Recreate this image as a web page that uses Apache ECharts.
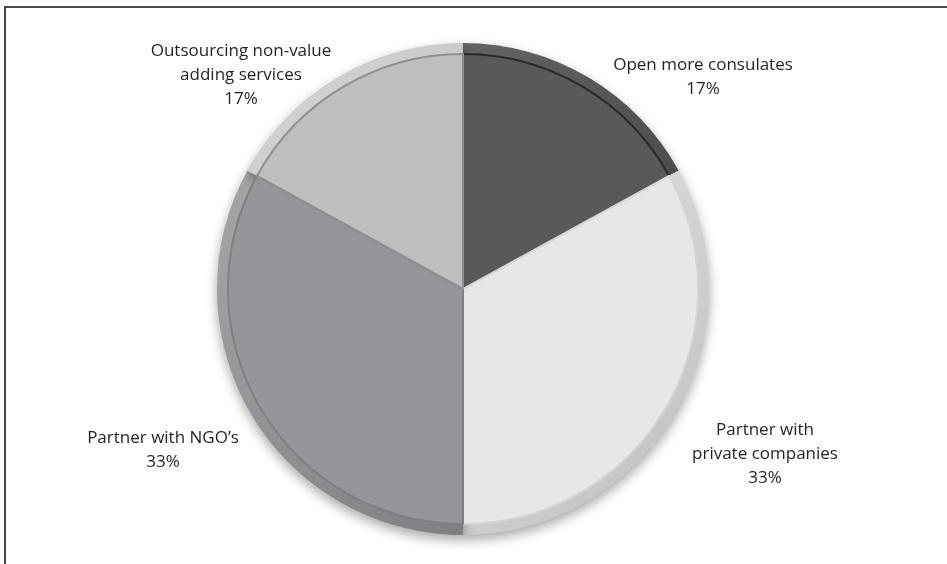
<!DOCTYPE html>
<html>
<head>
<meta charset="utf-8" />
<script src="https://cdn.jsdelivr.net/npm/echarts@6/dist/echarts.min.js"></script>
<style>
  html, body { margin: 0; padding: 0; background: #fff; }
  #frame {
    position: absolute; left: 4px; top: 6px; width: 943px; height: 558px;
    border-top: 2px solid #4a4a4a; border-left: 2px solid #4a4a4a;
  }
  #chart { position: absolute; left: 0; top: 0; width: 947px; height: 564px; }
</style>
</head>
<body>
<div id="frame"></div>
<div id="chart"></div>
<script>
// slices, clockwise from 12 o'clock
const categories = [
  "Open more consulates",
  "Partner with\nprivate companies",
  "Partner with NGO\u2019s",
  "Outsourcing non-value\nadding services"
];
const shares = [17, 33, 33, 17];

const fills = ["#58595b", "#e6e7e8", "#939598", "#bcbec0"];
const rimLight = ["#737477", "#f7f7f7", "#acaeb0", "#d6d7d8"];
const rimDark = ["#333335", "#bdbec0", "#6e6f72", "#a2a4a7"];
const edges = ["#2a2a2c", "#d4d5d7", "#7e8083", "#8e9093"];
// label anchor points (center of each text block)
const labelPos = [[703, 77], [765, 454], [163, 450], [241, 75]];

const cx = 463, cy = 289, r = 246;

const chart = echarts.init(document.getElementById("chart"));

const rimColor = i =>
  new echarts.graphic.LinearGradient(cx - r, cy - r, cx + r, cy + r, [
    { offset: 0, color: rimLight[i] },
    { offset: 1, color: rimDark[i] }
  ], true);

chart.setOption({
  animation: false,
  series: [
    {
      type: "pie",
      center: [cx, cy],
      radius: r,
      startAngle: 90,
      data: categories.map((c, i) => ({
        name: c,
        value: shares[i],
        itemStyle: { color: rimColor(i) }
      })),
      itemStyle: {
        shadowBlur: 12,
        shadowOffsetY: 5,
        shadowColor: "rgba(0,0,0,0.35)"
      },
      label: {
        show: true,
        formatter: p => `${p.name}\n${p.value}%`,
        fontFamily: "Open Sans",
        fontSize: 17,
        lineHeight: 24,
        color: "#231f20",
        align: "center"
      },
      labelLine: { show: false },
      labelLayout: p => ({
        x: labelPos[p.dataIndex][0],
        y: labelPos[p.dataIndex][1],
        align: "center",
        verticalAlign: "middle"
      })
    },
    {
      type: "pie",
      center: [cx, cy],
      radius: r - 11,
      startAngle: 90,
      silent: true,
      data: categories.map((c, i) => ({
        name: c,
        value: shares[i],
        itemStyle: { color: fills[i], borderColor: edges[i], borderWidth: 2 }
      })),
      label: { show: false },
      labelLine: { show: false }
    }
  ]
});

window.addEventListener("resize", () => chart.resize());
</script>
</body>
</html>
